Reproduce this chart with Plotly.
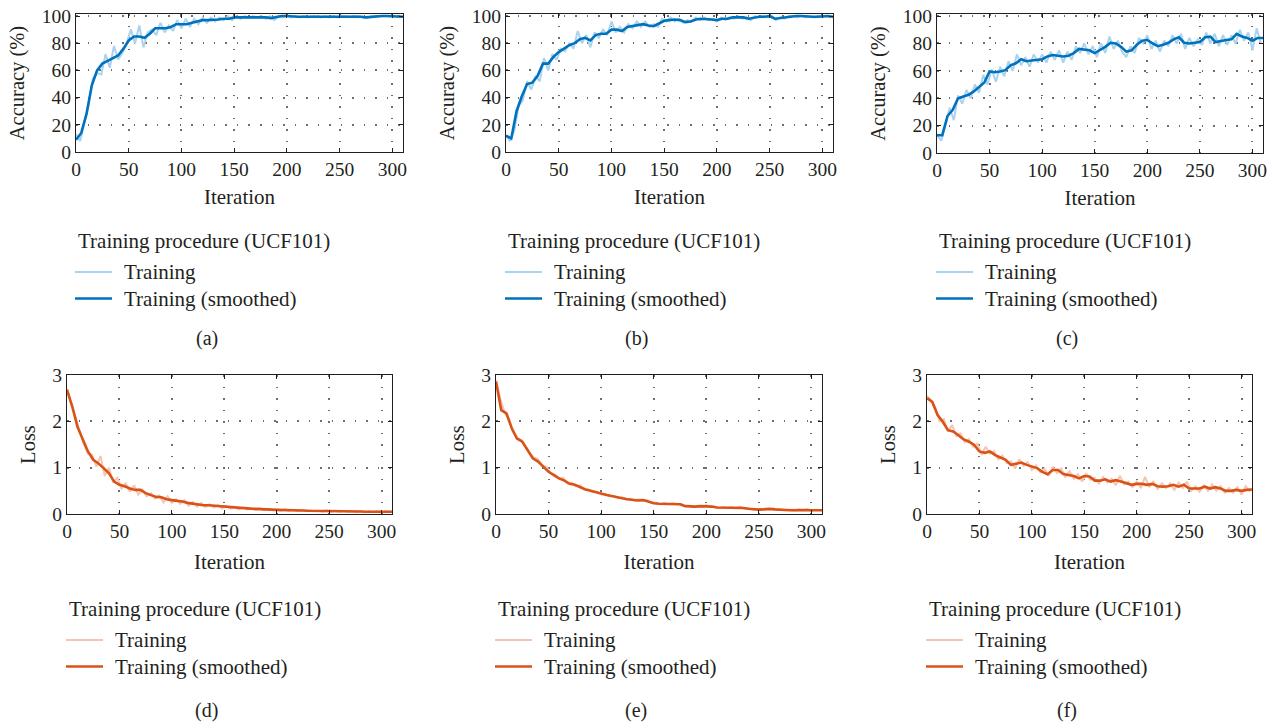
import plotly.graph_objects as go

# ---------------- data ----------------
ITER_SMOOTH = list(range(0, 311, 5))   # 63 points
ITER_RAW = list(range(0, 309, 4))      # 78 points

acc_a_smooth = [9, 14, 28, 49, 60, 65, 67, 69, 71, 76, 82, 85, 85, 84, 87, 91, 91, 91, 92, 94,
                94, 94, 95, 96, 97, 97, 97, 97.5, 98, 98, 99, 99, 99, 99.5, 99.5, 99, 99, 98.5, 99.5, 100,
                100, 99.5, 99.5, 99.5, 99.5, 100, 100, 99.5, 99.5, 99.5, 99.5, 100, 100, 100, 99.5, 99,
                99.5, 99.5, 100, 100, 100, 99.8, 99.5]
acc_a_raw = [13, 8, 22, 36, 54, 58, 57, 72, 62, 78, 68, 73, 80, 90, 80, 93, 77, 88, 90, 86,
             95, 88, 93, 89, 97, 91, 98, 92, 98, 94, 99, 95, 99, 96, 99, 97, 100, 97, 100, 98,
             100, 99, 100, 99, 100, 98, 100, 97, 100, 99, 100, 99, 100, 99, 100, 99, 100, 100, 99, 100,
             99, 100, 99, 100, 100, 99.5, 100, 100, 99, 98.5, 100, 99.5, 100, 100, 100, 99.5, 100, 99.5]

acc_b_smooth = [12, 10, 30, 41, 50, 51, 56, 65, 65, 70, 73.5, 76, 78.5, 80, 83, 84, 82, 86, 87, 87,
                90, 90, 89, 92, 92.5, 93, 94, 93, 92.5, 94.5, 96.5, 97, 97.5, 97, 95.5, 96, 97.5, 98, 98, 97.5,
                97, 98, 98, 99, 99, 99, 98, 99, 99.5, 99.5, 100, 98, 98.5, 99.5, 100, 100, 100, 99.5,
                99.5, 99.5, 100, 100, 99.5]
acc_b_raw = [12, 8, 16, 34, 38, 52, 46, 56, 52, 69, 60, 72, 68, 76, 74, 80, 76, 89, 80, 86,
             77, 88, 84, 90, 86, 96, 88, 92, 88, 94, 91, 96, 92, 96, 92, 94, 92, 98, 96, 99,
             96, 98, 95, 97, 96, 99, 97, 99, 97, 98, 96, 99, 97, 99, 98, 100, 98, 99, 97, 100,
             99, 100, 99, 100, 97, 99, 98, 100, 100, 99, 100, 99, 100, 99, 100, 99.5, 100, 99]

acc_c_smooth = [13, 13, 27, 31.5, 40, 41, 42.5, 45, 48.5, 51.5, 59.5, 59, 59.5, 60.5, 64, 65.5, 68.5, 67, 67.5, 68,
                68.5, 70.5, 71.5, 71, 70.5, 71, 73, 76, 75.5, 75, 73, 75, 77.5, 80.5, 80, 77.5, 74, 75, 79, 82,
                82.5, 80, 78, 79, 80.5, 83, 84.5, 80.5, 80, 80.5, 81, 84.5, 85, 81, 82, 82.5, 83, 87,
                85, 84, 82, 84, 84]
acc_c_raw = [13, 9, 20, 33, 24, 42, 36, 46, 40, 50, 44, 57, 50, 61, 52, 63, 56, 67, 60, 72,
             64, 70, 63, 72, 66, 72, 66, 74, 68, 75, 66, 74, 68, 78, 73, 80, 72, 78, 70, 80,
             73, 85, 76, 82, 74, 70, 78, 73, 84, 80, 86, 76, 82, 74, 82, 78, 86, 80, 87, 76,
             84, 78, 83, 79, 88, 80, 87, 78, 86, 79, 86, 80, 90, 82, 88, 75, 91, 80]

loss_d_smooth = [2.68, 2.32, 1.88, 1.6, 1.35, 1.17, 1.09, 0.99, 0.88, 0.70, 0.63, 0.60, 0.55, 0.52, 0.52, 0.45,
                 0.41, 0.37, 0.36, 0.32, 0.30, 0.29, 0.27, 0.24, 0.22, 0.21, 0.19, 0.19, 0.18, 0.17, 0.16,
                 0.14, 0.14, 0.12, 0.12, 0.115, 0.11, 0.11, 0.10, 0.095, 0.09, 0.09, 0.09, 0.08, 0.075,
                 0.075, 0.07, 0.07, 0.065, 0.065, 0.065, 0.06, 0.06, 0.06, 0.06, 0.055, 0.055, 0.05,
                 0.05, 0.05, 0.05, 0.05, 0.05]
loss_d_raw = [2.7, 2.4, 2.1, 1.8, 1.5, 1.3, 1.28, 1.02, 1.25, 0.82, 1.0, 0.68, 0.78, 0.55, 0.66, 0.48,
              0.62, 0.42, 0.52, 0.38, 0.45, 0.33, 0.40, 0.25, 0.38, 0.24, 0.32, 0.22, 0.30, 0.18, 0.26,
              0.16, 0.24, 0.15, 0.21, 0.14, 0.19, 0.12, 0.17, 0.11, 0.15, 0.10, 0.14, 0.10, 0.13, 0.09,
              0.12, 0.08, 0.11, 0.08, 0.10, 0.07, 0.10, 0.07, 0.09, 0.06, 0.08, 0.06, 0.08, 0.06, 0.07,
              0.05, 0.08, 0.05, 0.07, 0.05, 0.07, 0.05, 0.06, 0.04, 0.06, 0.04, 0.06, 0.04, 0.06, 0.04,
              0.06, 0.05]

loss_e_smooth = [2.86, 2.24, 2.17, 1.85, 1.63, 1.56, 1.38, 1.20, 1.13, 1.02, 0.91, 0.84, 0.77, 0.72, 0.65,
                 0.63, 0.58, 0.53, 0.50, 0.47, 0.43, 0.41, 0.39, 0.36, 0.34, 0.32, 0.30, 0.29, 0.30, 0.27,
                 0.23, 0.22, 0.22, 0.22, 0.22, 0.21, 0.17, 0.16, 0.16, 0.17, 0.17, 0.16, 0.14, 0.14, 0.14,
                 0.14, 0.14, 0.13, 0.115, 0.10, 0.095, 0.10, 0.11, 0.10, 0.085, 0.085, 0.08, 0.085, 0.085,
                 0.085, 0.08, 0.08, 0.08]
loss_e_raw = [2.88, 2.5, 2.2, 2.05, 1.78, 1.62, 1.6, 1.45, 1.32, 1.22, 1.18, 1.05, 1.02, 0.88, 0.85, 0.76,
              0.78, 0.66, 0.68, 0.60, 0.62, 0.54, 0.53, 0.47, 0.48, 0.42, 0.44, 0.38, 0.39, 0.34, 0.36,
              0.31, 0.33, 0.29, 0.32, 0.28, 0.30, 0.24, 0.25, 0.21, 0.24, 0.21, 0.23, 0.21, 0.22, 0.17,
              0.18, 0.15, 0.18, 0.16, 0.19, 0.15, 0.16, 0.13, 0.15, 0.13, 0.15, 0.13, 0.16, 0.12, 0.13,
              0.10, 0.11, 0.09, 0.12, 0.10, 0.12, 0.09, 0.09, 0.08, 0.09, 0.07, 0.10, 0.08, 0.10, 0.07,
              0.09, 0.08]

loss_f_smooth = [2.50, 2.42, 2.14, 1.99, 1.81, 1.78, 1.70, 1.61, 1.56, 1.49, 1.35, 1.32, 1.35, 1.27, 1.22,
                 1.17, 1.06, 1.09, 1.11, 1.06, 1.02, 0.99, 0.91, 0.86, 0.95, 0.95, 0.86, 0.84, 0.82, 0.77,
                 0.82, 0.81, 0.72, 0.72, 0.75, 0.70, 0.73, 0.70, 0.66, 0.63, 0.65, 0.65, 0.63, 0.65, 0.60,
                 0.59, 0.60, 0.63, 0.59, 0.63, 0.55, 0.55, 0.55, 0.59, 0.55, 0.58, 0.55, 0.50, 0.50, 0.52,
                 0.50, 0.52, 0.53]
loss_f_raw = [2.55, 2.45, 2.3, 2.0, 2.05, 1.78, 1.92, 1.68, 1.74, 1.55, 1.62, 1.45, 1.52, 1.28, 1.45, 1.30,
              1.36, 1.18, 1.26, 1.10, 1.14, 0.98, 1.18, 1.04, 1.12, 0.95, 1.05, 0.90, 0.98, 0.82, 1.02,
              0.88, 0.98, 0.80, 0.92, 0.76, 0.86, 0.70, 0.88, 0.74, 0.78, 0.66, 0.80, 0.68, 0.76, 0.62,
              0.82, 0.64, 0.70, 0.58, 0.70, 0.56, 0.80, 0.58, 0.70, 0.54, 0.66, 0.56, 0.66, 0.52, 0.68,
              0.56, 0.70, 0.50, 0.60, 0.48, 0.62, 0.50, 0.64, 0.50, 0.60, 0.46, 0.56, 0.46, 0.58, 0.42,
              0.60, 0.48]

panel_labels = ["(a)", "(b)", "(c)", "(d)", "(e)", "(f)"]
legend_title = "Training procedure (UCF101)"
series_names = ["Training", "Training (smoothed)"]
x_ticks = [0, 50, 100, 150, 200, 250, 300]
acc_ticks = [0, 20, 40, 60, 80, 100]
loss_ticks = [0, 1, 2, 3]

# ---------------- style ----------------
FONT = "Liberation Serif"
TXT = "#231F20"
BLUE, LBLUE = "#0072BD", "#A9D3EF"
ORANGE, LORANGE = "#D95319", "#F6C5B0"
W, H = 1277, 722
RAW_W, SMOOTH_W = 2, 2.6

panels = [
    # raw, smooth, dark, light, ytitle, yticks, yrange, x-domain px, y-domain px, y/x title standoff
    (acc_a_raw, acc_a_smooth, BLUE, LBLUE, "Accuracy (%)", acc_ticks, [0, 101.5], (76, 403), (14, 152), 11, 9),
    (acc_b_raw, acc_b_smooth, BLUE, LBLUE, "Accuracy (%)", acc_ticks, [0, 101.5], (506, 833), (14, 152), 11, 9),
    (acc_c_raw, acc_c_smooth, BLUE, LBLUE, "Accuracy (%)", acc_ticks, [0, 101.5], (937, 1263), (14, 153), 11, 9),
    (loss_d_raw, loss_d_smooth, ORANGE, LORANGE, "Loss", loss_ticks, [0, 3], (67, 392), (375, 514), 11, 12),
    (loss_e_raw, loss_e_smooth, ORANGE, LORANGE, "Loss", loss_ticks, [0, 3], (496, 822), (375, 514), 11, 12),
    (loss_f_raw, loss_f_smooth, ORANGE, LORANGE, "Loss", loss_ticks, [0, 3], (927, 1252), (375, 514), 11, 12),
]


def px(xp):
    return xp / W


def py(yp):
    return 1 - yp / H


fig = go.Figure()
annotations, shapes = [], []
layout = dict(
    width=W, height=H,
    margin=dict(l=0, r=0, t=0, b=0, autoexpand=False),
    paper_bgcolor="white", plot_bgcolor="white",
    font=dict(family=FONT, size=20, color=TXT),
    showlegend=False,
)

axis_common = dict(
    showline=True, linecolor="#231F20", linewidth=1, mirror="ticks",
    ticks="inside", ticklen=4, tickcolor="#231F20", tickwidth=1,
    showgrid=True, gridcolor="#6E6E6E", gridwidth=1.5, griddash="1.5px,10px",
    zeroline=False, tickfont=dict(family=FONT, size=19.5, color=TXT),
    automargin=False,
)

for i, (raw, smooth, dark, light, ytitle, yticks, yrange, xd, yd, ystand, xstand) in enumerate(panels):
    n = i + 1
    xa = "x" if n == 1 else f"x{n}"
    ya = "y" if n == 1 else f"y{n}"
    fig.add_trace(go.Scatter(x=ITER_RAW, y=raw, mode="lines", name=series_names[0],
                             line=dict(color=light, width=RAW_W), xaxis=xa, yaxis=ya))
    fig.add_trace(go.Scatter(x=ITER_SMOOTH, y=smooth, mode="lines", name=series_names[1],
                             line=dict(color=dark, width=SMOOTH_W), xaxis=xa, yaxis=ya))
    xkey = "xaxis" if n == 1 else f"xaxis{n}"
    ykey = "yaxis" if n == 1 else f"yaxis{n}"
    layout[xkey] = dict(axis_common, domain=[px(xd[0]), px(xd[1])], range=[0, 310], tickvals=x_ticks,
                        anchor=ya, title=dict(text="Iteration", standoff=xstand,
                                              font=dict(family=FONT, size=21, color=TXT)))
    layout[ykey] = dict(axis_common, domain=[py(yd[1]), py(yd[0])], range=yrange, tickvals=yticks,
                        anchor=xa, title=dict(text=ytitle, standoff=ystand,
                                              font=dict(family=FONT, size=20.5, color=TXT)))

    # legend block (drawn as text + sample lines)
    left = xd[0]
    title_y = 241 if n <= 3 else 609
    row1_y = title_y + 31
    row2_y = row1_y + 26.5
    annotations.append(dict(text=legend_title, x=px(left), y=py(title_y), xref="paper", yref="paper",
                            xanchor="left", yanchor="middle", showarrow=False,
                            font=dict(family=FONT, size=21, color=TXT)))
    for name, col, lw, yy in [(series_names[0], light, RAW_W, row1_y),
                              (series_names[1], dark, SMOOTH_W, row2_y)]:
        shapes.append(dict(type="line", xref="paper", yref="paper",
                           x0=px(left - 1), x1=px(left + 36), y0=py(yy), y1=py(yy),
                           line=dict(color=col, width=lw)))
        annotations.append(dict(text=name, x=px(left + 46), y=py(yy), xref="paper", yref="paper",
                                xanchor="left", yanchor="middle", showarrow=False,
                                font=dict(family=FONT, size=21, color=TXT)))

    cap_y = 338 if n <= 3 else 710
    cap_x = (xd[0] + xd[1]) / 2 - 33 if n <= 3 else (xd[0] + xd[1]) / 2 - 23
    annotations.append(dict(text=panel_labels[i], x=px(cap_x), y=py(cap_y), xref="paper", yref="paper",
                            xanchor="center", yanchor="middle", showarrow=False,
                            font=dict(family=FONT, size=20, color=TXT)))

layout["annotations"] = annotations
layout["shapes"] = shapes
fig.update_layout(**layout)
fig.write_html("out.html", config={"displayModeBar": False},
               post_script="document.body.style.margin='0';")
